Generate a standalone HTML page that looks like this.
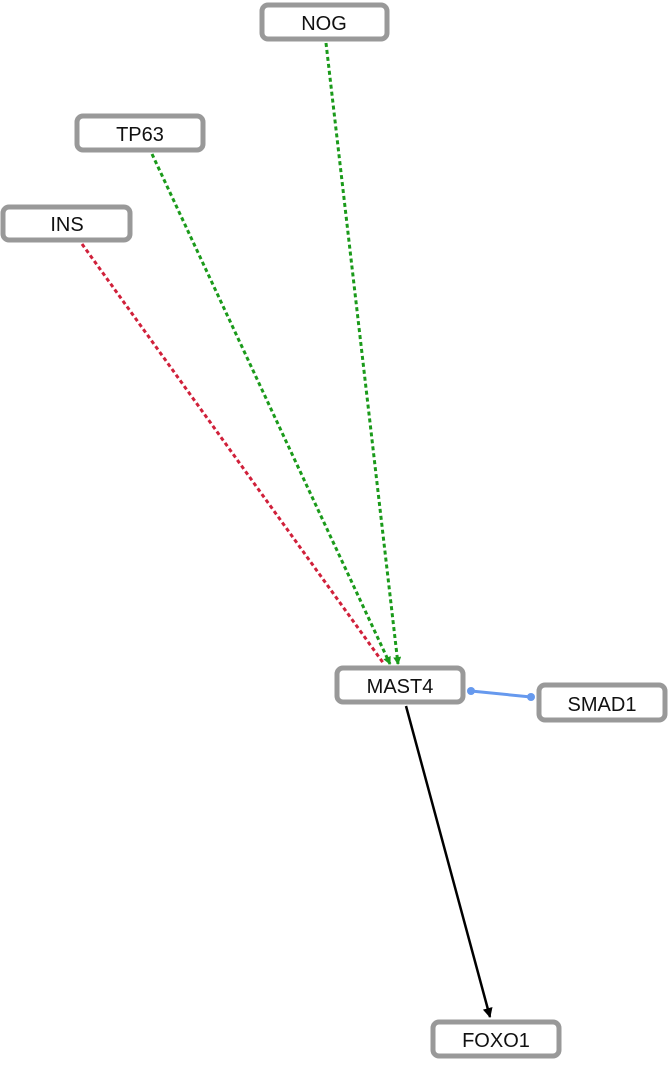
<!DOCTYPE html>
<html><head><style>
body{margin:0;background:#fff;width:670px;height:1060px;overflow:hidden}
</style></head><body>
<svg width="670" height="1060" xmlns="http://www.w3.org/2000/svg" font-family="Liberation Sans, sans-serif">
<defs>
<marker id="ag" markerWidth="8" markerHeight="8" refX="7" refY="4" orient="auto" markerUnits="userSpaceOnUse"><path d="M0,0 L8,4 L0,8 z" fill="#1a9a1a"/></marker>
<marker id="ak" markerWidth="10" markerHeight="10" refX="9" refY="5" orient="auto" markerUnits="userSpaceOnUse"><path d="M0,0 L10,5 L0,10 z" fill="#000"/></marker>
</defs>
<g stroke-width="3" stroke-dasharray="4,3" fill="none">
<line x1="82" y1="244" x2="384" y2="664" stroke="#d0203a"/>
<line x1="152" y1="154" x2="390" y2="664" stroke="#1a9a1a" marker-end="url(#ag)"/>
<line x1="326" y1="43" x2="398" y2="664" stroke="#1a9a1a" marker-end="url(#ag)"/>
</g>
<line x1="471" y1="691" x2="531" y2="697" stroke="#6699ee" stroke-width="3"/>
<circle cx="471" cy="691" r="4" fill="#6699ee"/>
<circle cx="531" cy="697" r="4" fill="#6699ee"/>
<line x1="406" y1="706" x2="490" y2="1017" stroke="#000" stroke-width="2.5" marker-end="url(#ak)"/>
<g fill="#fff" stroke="#999" stroke-width="5">
<rect x="262" y="5" width="125" height="34" rx="6"/>
<rect x="77" y="116" width="126" height="34" rx="6"/>
<rect x="3" y="207" width="127" height="33" rx="6"/>
<rect x="337" y="668" width="126" height="34" rx="6"/>
<rect x="539" y="685" width="126" height="35" rx="6"/>
<rect x="433" y="1022" width="126" height="34" rx="6"/>
</g>
<g font-size="20" fill="#111" text-anchor="middle">
<text x="324" y="30">NOG</text>
<text x="140" y="141">TP63</text>
<text x="67" y="231">INS</text>
<text x="400" y="693">MAST4</text>
<text x="602" y="711">SMAD1</text>
<text x="496" y="1047">FOXO1</text>
</g>
</svg>
</body></html>
